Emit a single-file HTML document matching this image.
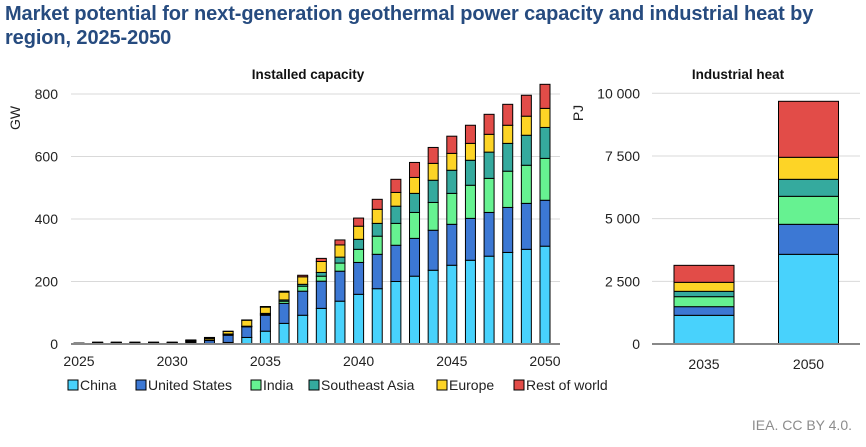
<!DOCTYPE html>
<html><head><meta charset="utf-8"><style>
body{margin:0;background:#fff;font-family:"Liberation Sans",Arial,sans-serif;}
#wrap{position:relative;width:866px;height:447px;overflow:hidden;}
.title{position:absolute;left:5px;top:2px;font-size:20px;font-weight:bold;color:#264b7f;line-height:24px;letter-spacing:-0.1px;}
.src{position:absolute;right:14px;top:417px;font-size:14px;color:#8c8c8c;}
</style></head><body>
<div id="wrap">
<div class="title">Market potential for next-generation geothermal power capacity and industrial heat by<br>region, 2025-2050</div>
<svg id="svg" width="866" height="447" style="position:absolute;left:0;top:0"></svg>
<div class="src">IEA. CC BY 4.0.</div>
</div>
<script>
const years=[2025,2026,2027,2028,2029,2030,2031,2032,2033,2034,2035,2036,2037,2038,2039,2040,2041,2042,2043,2044,2045,2046,2047,2048,2049,2050];
const china=[1,2,2,2,2,2,4,2,5,21,41,66,92,114,137,159,177,200,217,236,252,268,281,293,303,313];
const us=[1,1,1,1,1,1,3,9,23,34,51,64,77,87,96,102,110,116,121,128,131,134,140,144,147,147];
const india=[0,1,1,1,1,1,2,1,2,1,3,7,16,16,26,42,58,70,83,89,99,106,109,116,122,134];
const sea=[0,1,1,1,1,1,2,1,2,1,3,4,6,12,19,32,41,55,61,71,74,80,84,89,96,99];
const europe=[1,1,1,1,1,1,1,5,8,19,20,25,24,35,39,42,45,44,51,54,54,54,57,58,61,61];
const row=[0,0,0,0,0,0,1,3,1,1,2,3,5,10,16,26,32,42,48,51,55,58,64,67,67,77];
const leftTicks=[0,200,400,600,800];
const xLabels=[2025,2030,2035,2040,2045,2050];
const heatYears=[2035,2050];
const heatChina=[1144,3577];
const heatUS=[345,1197];
const heatIndia=[399,1117];
const heatSEA=[213,678];
const heatEurope=[359,878];
const heatRow=[678,2234];
const rightTicks=[0,2500,5000,7500,10000];
const rightTickLabels=["0","2 500","5 000","7 500","10 000"];
const seriesNames=["China","United States","India","Southeast Asia","Europe","Rest of world"];
const colors=["#48d2fc","#3c78d4","#66f291","#35aa9e","#fdd426","#e24c48"];

const NS="http://www.w3.org/2000/svg";
const svg=document.getElementById('svg');
function el(t,a,p){const e=document.createElementNS(NS,t);for(const k in a)e.setAttribute(k,a[k]);(p||svg).appendChild(e);return e;}
function txt(s,a){const e=el('text',a);e.textContent=s;return e;}
const base=344;
const ly=v=>base-v*250/800;
const lx=y=>79+(y-2025)*18.64;
const ry=v=>base-v*250.7/10000;
const rx={2035:704,2050:808.5};

leftTicks.forEach(t=>{
 if(t>0){const g=el('line',{x1:71,x2:560,y1:ly(t),y2:ly(t),stroke:'#d9d9d9','stroke-width':1});
 }
 const l=txt(t,{x:58,y:ly(t)+5,'text-anchor':'end','font-size':14,fill:'#222'});
 
});
const series=[china,us,india,sea,europe,row];
years.forEach((yr,i)=>{
 let cum=0;
 series.forEach((s,j)=>{
  const v=s[i];if(v<=0)return;
  const r=el('rect',{x:lx(yr)-5,y:ly(cum+v),width:10,height:ly(cum)-ly(cum+v),fill:colors[j],stroke:'#000','stroke-width':1});
  
  
  cum+=v;
 });
});
const ax=el('line',{x1:71,x2:560,y1:base,y2:base,stroke:'#888','stroke-width':2});

xLabels.forEach(y=>{const l=txt(y,{x:lx(y),y:366,'text-anchor':'middle','font-size':14,fill:'#222'});
 });
let t1=txt('Installed capacity',{x:308,y:79,'text-anchor':'middle','font-size':13.5,'font-weight':'bold',fill:'#111'});

let gw=txt('GW',{x:0,y:0,'text-anchor':'middle','font-size':14,fill:'#222',transform:'translate(20,118) rotate(-90)'});


rightTicks.forEach((t,i)=>{
 if(t>0){const g=el('line',{x1:652,x2:860,y1:ry(t),y2:ry(t),stroke:'#d9d9d9','stroke-width':1});
 }
 const l=txt(rightTickLabels[i],{x:640,y:ry(t)+5,'text-anchor':'end','font-size':14,fill:'#222'});
 
});
const hs=[heatChina,heatUS,heatIndia,heatSEA,heatEurope,heatRow];
heatYears.forEach((yr,i)=>{
 let cum=0;
 hs.forEach((s,j)=>{
  const v=s[i];
  const r=el('rect',{x:rx[yr]-30,y:ry(cum+v),width:60,height:ry(cum)-ry(cum+v),fill:colors[j],stroke:'#000','stroke-width':1});
  
  
  cum+=v;
 });
 const l=txt(yr,{x:rx[yr],y:369,'text-anchor':'middle','font-size':14,fill:'#222'});
 
});
const ax2=el('line',{x1:652,x2:860,y1:base,y2:base,stroke:'#888','stroke-width':2});

let t2=txt('Industrial heat',{x:738,y:79,'text-anchor':'middle','font-size':13.5,'font-weight':'bold',fill:'#111'});

let pj=txt('PJ',{x:0,y:0,'text-anchor':'middle','font-size':14,fill:'#222',transform:'translate(583,113) rotate(-90)'});


const legX=[68,136,251,309,437,514];
seriesNames.forEach((n,j)=>{
 const g=el('g',{});
 
 
 el('rect',{x:legX[j],y:380,width:10,height:10,fill:colors[j],stroke:'#000','stroke-width':1},g);
 const t=el('text',{x:legX[j]+12,y:390,'font-size':14,fill:'#222'},g);t.textContent=n;
});
</script>
</body></html>
